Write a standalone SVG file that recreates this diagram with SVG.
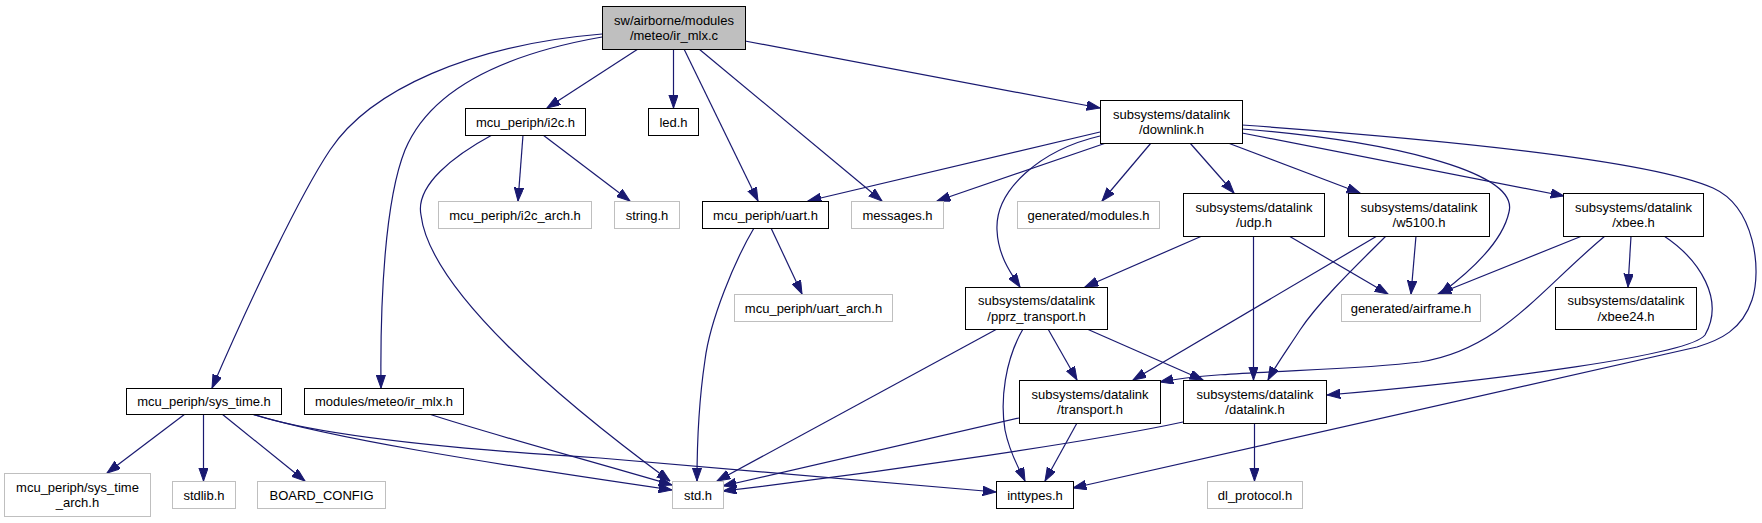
<svg xmlns="http://www.w3.org/2000/svg" width="1762" height="523" viewBox="0 0 1762 523">
<style>
.n rect{fill:#fff;stroke:#000;stroke-width:1}
.g rect{fill:#fff;stroke:#bfbfbf;stroke-width:1}
.r rect{fill:#bfbfbf;stroke:#000;stroke-width:1}
text{font-family:"Liberation Sans",Arial,Helvetica,sans-serif;font-size:13px;fill:#000;text-anchor:middle}
.e path{fill:none;stroke:#191970;stroke-width:1.2;marker-end:url(#a)}
</style>
<defs>
<marker id="a" markerWidth="14" markerHeight="10" refX="13.3" refY="4.7" orient="auto" markerUnits="userSpaceOnUse">
<path d="M0,0 L13.3,4.7 L0,9.4 z" fill="#191970" stroke="#191970" stroke-width="1"/>
</marker>
</defs>
<rect width="1762" height="523" fill="#fff"/>
<g class="e" id="edges">
<path d="M602,34 C470,45 370,90 330,150 C300,195 250,300 212,388"/>
<path d="M602,37 C500,55 430,90 405,150 C385,200 380,300 381,388"/>
<path d="M638,49 L547,108"/>
<path d="M673.5,49 L673.5,108"/>
<path d="M684,49 L758,201"/>
<path d="M699,49 L882,201"/>
<path d="M745,41 L1100,108"/>
<path d="M523,135 L518,201"/>
<path d="M543,135 L630,201"/>
<path d="M492,135 C455,155 415,185 421,215 C430,290 560,400 670,481"/>
<path d="M1100,132 L808,201"/>
<path d="M1106,143 L937,201"/>
<path d="M1151,143 L1102,201"/>
<path d="M1190,143 L1234,193"/>
<path d="M1228,143 L1360,193"/>
<path d="M1242,133 L1564,196"/>
<path d="M1100,136 C1040,150 995,190 997,230 C998,255 1010,272 1020,287"/>
<path d="M1242,129 C1380,140 1520,170 1509,212 C1503,240 1475,268 1440,294"/>
<path d="M1242,125 C1450,140 1650,160 1713,188 C1755,207 1762,270 1752,300 C1742,330 1720,340 1697,347 L1073,488"/>
<path d="M771,228 L802,294"/>
<path d="M754,228 C735,260 710,320 705,360 C699,400 697,440 697,481"/>
<path d="M1202,236 L1085,287"/>
<path d="M1253.5,236 L1253.5,380"/>
<path d="M1289,236 L1388,294"/>
<path d="M1416,236 L1411,294"/>
<path d="M1377,236 L1133,380"/>
<path d="M1386,236 C1360,262 1320,300 1300,330 C1287,350 1276,365 1268,380"/>
<path d="M1582,236 L1438,294"/>
<path d="M1631,236 L1628,287"/>
<path d="M1605,236 C1540,290 1500,350 1420,362 C1340,372 1220,370 1160,382"/>
<path d="M1664,236 C1700,260 1725,300 1705,335 C1690,355 1500,380 1327,395"/>
<path d="M997,329 L717,481"/>
<path d="M1023,329 C1005,360 1000,400 1005,430 C1010,455 1020,470 1025,481"/>
<path d="M1048,329 L1077,380"/>
<path d="M1087,329 L1203,380"/>
<path d="M185,414 L107,473"/>
<path d="M203.5,414 L203.5,481"/>
<path d="M222,414 L305,481"/>
<path d="M252,414 C330,438 480,462 672,490"/>
<path d="M252,414 C330,440 500,452 600,458 L996,492"/>
<path d="M429,414 C490,434 580,458 672,485"/>
<path d="M1019,418 L723,486"/>
<path d="M1077,423 L1045,481"/>
<path d="M1183,422 C1100,440 900,470 723,491"/>
<path d="M1254.5,423 L1254.5,481"/>
</g>
<g id="root" class="r"><rect x="602.5" y="6.5" width="143" height="43"/><text x="674" y="24.5">sw/airborne/modules</text><text x="674" y="40">/meteo/ir_mlx.c</text></g>
<g id="i2c" class="n"><rect x="465.5" y="108.5" width="120" height="27"/><text x="525.5" y="126.5">mcu_periph/i2c.h</text></g>
<g id="led" class="n"><rect x="648.5" y="108.5" width="50" height="27"/><text x="673.5" y="126.5">led.h</text></g>
<g id="downlink" class="n"><rect x="1100.5" y="100.5" width="142" height="43"/><text x="1171.5" y="118.5">subsystems/datalink</text><text x="1171.5" y="134">/downlink.h</text></g>
<g id="i2c_arch" class="g"><rect x="438.5" y="201.5" width="153" height="27"/><text x="515" y="219.5">mcu_periph/i2c_arch.h</text></g>
<g id="string" class="g"><rect x="614.5" y="201.5" width="65" height="27"/><text x="647" y="219.5">string.h</text></g>
<g id="uart" class="n"><rect x="702.5" y="201.5" width="126" height="27"/><text x="765.5" y="219.5">mcu_periph/uart.h</text></g>
<g id="messages" class="g"><rect x="851.5" y="201.5" width="92" height="27"/><text x="897.5" y="219.5">messages.h</text></g>
<g id="modules" class="g"><rect x="1017.5" y="201.5" width="142" height="27"/><text x="1088.5" y="219.5">generated/modules.h</text></g>
<g id="udp" class="n"><rect x="1183.5" y="193.5" width="141" height="43"/><text x="1254" y="211.5">subsystems/datalink</text><text x="1254" y="227">/udp.h</text></g>
<g id="w5100" class="n"><rect x="1348.5" y="193.5" width="141" height="43"/><text x="1419" y="211.5">subsystems/datalink</text><text x="1419" y="227">/w5100.h</text></g>
<g id="xbee" class="n"><rect x="1563.5" y="193.5" width="140" height="43"/><text x="1633.5" y="211.5">subsystems/datalink</text><text x="1633.5" y="227">/xbee.h</text></g>
<g id="uart_arch" class="g"><rect x="734.5" y="294.5" width="158" height="27"/><text x="813.5" y="312.5">mcu_periph/uart_arch.h</text></g>
<g id="pprz" class="n"><rect x="965.5" y="287.5" width="142" height="42"/><text x="1036.5" y="305">subsystems/datalink</text><text x="1036.5" y="320.5">/pprz_transport.h</text></g>
<g id="airframe" class="g"><rect x="1341.5" y="294.5" width="139" height="27"/><text x="1411" y="312.5">generated/airframe.h</text></g>
<g id="xbee24" class="n"><rect x="1555.5" y="287.5" width="141" height="42"/><text x="1626" y="305">subsystems/datalink</text><text x="1626" y="320.5">/xbee24.h</text></g>
<g id="sys_time" class="n"><rect x="126.5" y="388.5" width="155" height="26"/><text x="204" y="406">mcu_periph/sys_time.h</text></g>
<g id="ir_mlx_h" class="n"><rect x="304.5" y="388.5" width="159" height="26"/><text x="384" y="406">modules/meteo/ir_mlx.h</text></g>
<g id="transport" class="n"><rect x="1019.5" y="380.5" width="141" height="43"/><text x="1090" y="398.5">subsystems/datalink</text><text x="1090" y="414">/transport.h</text></g>
<g id="datalink" class="n"><rect x="1183.5" y="380.5" width="143" height="43"/><text x="1255" y="398.5">subsystems/datalink</text><text x="1255" y="414">/datalink.h</text></g>
<g id="sys_time_arch" class="g"><rect x="4.5" y="473.5" width="146" height="43"/><text x="77.5" y="491.5">mcu_periph/sys_time</text><text x="77.5" y="507">_arch.h</text></g>
<g id="stdlib" class="g"><rect x="172.5" y="481.5" width="63" height="27"/><text x="204" y="499.5">stdlib.h</text></g>
<g id="board_config" class="g"><rect x="257.5" y="481.5" width="128" height="27"/><text x="321.5" y="499.5">BOARD_CONFIG</text></g>
<g id="std" class="g"><rect x="672.5" y="481.5" width="51" height="27"/><text x="698" y="499.5">std.h</text></g>
<g id="inttypes" class="n"><rect x="996.5" y="481.5" width="77" height="27"/><text x="1035" y="499.5">inttypes.h</text></g>
<g id="dl_protocol" class="g"><rect x="1207.5" y="481.5" width="95" height="27"/><text x="1255" y="499.5">dl_protocol.h</text></g>
</svg>
